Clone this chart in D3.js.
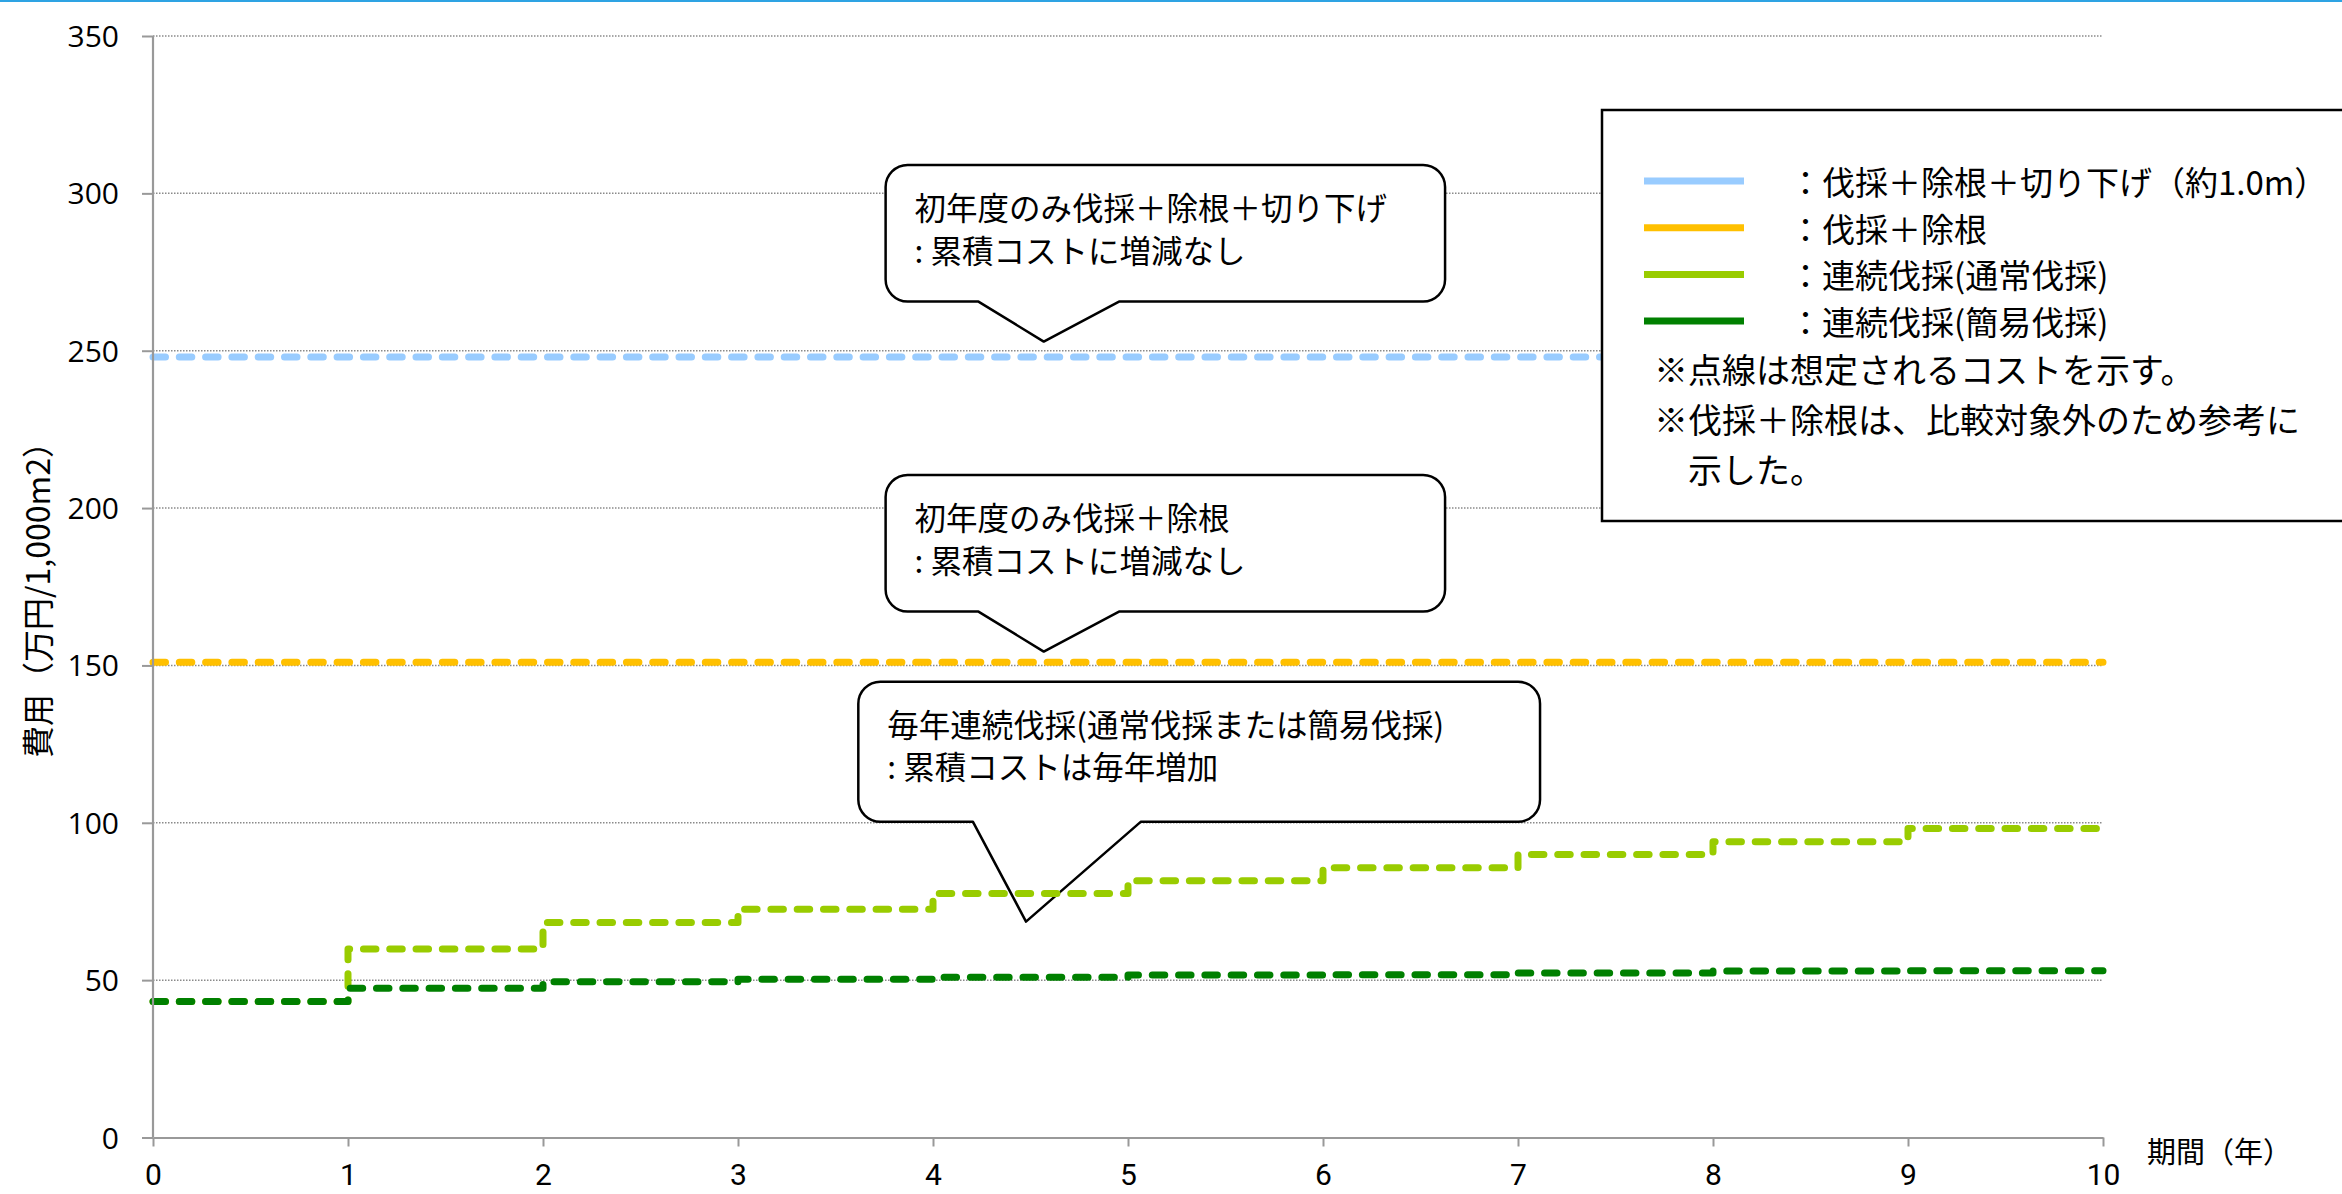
<!DOCTYPE html>
<html lang="ja">
<head>
<meta charset="UTF-8">
<title>累積コスト</title>
<script src="https://d3js.org/d3.v7.min.js"></script>
<style>
  body { margin: 0; background: #fff; }
  text { font-family: "Noto Sans CJK JP", "Noto Sans", sans-serif; fill: #000; }
  .ytick text { font-family: "Open Sans", "Noto Sans", sans-serif; }
  .xtick text { font-family: "Liberation Sans Narrow", "Roboto", "Noto Sans", sans-serif; }
</style>
</head>
<body>
<div id="chart"></div>
<script>
// years on x axis and tick values
var years = [0, 1, 2, 3, 4, 5, 6, 7, 8, 9, 10];
var yTicks = [0, 50, 100, 150, 200, 250, 300, 350];

// cost per year interval (start of year 0..9), 万円/1,000m2
var costCutRootLower = [248, 248, 248, 248, 248, 248, 248, 248, 248, 248];
var costCutRoot      = [151, 151, 151, 151, 151, 151, 151, 151, 151, 151];
var costNormal       = [43.2, 59.9, 68.3, 72.5, 77.5, 81.6, 85.7, 89.9, 94.0, 98.2];
var costSimple       = [43.2, 47.4, 49.5, 50.3, 50.9, 51.6, 51.7, 52.3, 52.9, 53.0];

var seriesNames = [
  "：伐採＋除根＋切り下げ（約1.0m）",
  "：伐採＋除根",
  "：連続伐採(通常伐採)",
  "：連続伐採(簡易伐採)"
];
var seriesColors = ["#99ccff", "#ffc000", "#99cc00", "#008000"];

var notes = [
  "※点線は想定されるコストを示す。",
  "※伐採＋除根は、比較対象外のため参考に",
  "　示した。"
];

var xTitle = "期間（年）";
var yTitle = "費用（万円/1,000m2）";

// callouts: box and pointer in data units
var callouts = [
  { lines: ["初年度のみ伐採＋除根＋切り下げ", ": 累積コストに増減なし"],
    x0: 3.757, x1: 6.626, top: 309.0, bottom: 265.6, b0: 4.233, b1: 4.954, tipX: 4.568, tipY: 252.9 },
  { lines: ["初年度のみ伐採＋除根", ": 累積コストに増減なし"],
    x0: 3.757, x1: 6.626, top: 210.5, bottom: 167.1, b0: 4.233, b1: 4.954, tipX: 4.568, tipY: 154.4 },
  { lines: ["毎年連続伐採(通常伐採または簡易伐採)", ": 累積コストは毎年増加"],
    x0: 3.617, x1: 7.113, top: 144.8, bottom: 100.3, b0: 4.205, b1: 5.065, tipX: 4.477, tipY: 68.6 }
];

var W = 2342, H = 1194;
var margin = { top: 36, left: 153, right: 239, bottom: 56.5 };
var width = W - margin.left - margin.right,
    height = H - margin.top - margin.bottom;

var svg = d3.select("#chart").append("svg")
    .attr("width", W).attr("height", H);

// thin blue strip at top of page
svg.append("rect").attr("x", 0).attr("y", 0).attr("width", W).attr("height", 2)
    .attr("fill", "#2ea3e3");

var g = svg.append("g")
    .attr("transform", "translate(" + margin.left + "," + margin.top + ")");

var x = d3.scaleLinear().domain([0, 10]).range([0, width]);
var y = d3.scaleLinear().domain([0, 350]).range([height, 0]);

// gridlines
g.selectAll(".grid").data(yTicks.filter(d => d > 0)).enter()
  .append("line")
    .attr("x1", 0).attr("x2", width)
    .attr("y1", d => y(d)).attr("y2", d => y(d))
    .attr("stroke", "#8a8a8a").attr("stroke-width", 1.5)
    .attr("stroke-dasharray", "1.5,1.5");

// callout bubbles (behind lines)
function bubblePath(c) {
  var r = 22;
  var X0 = x(c.x0), X1 = x(c.x1), T = y(c.top), B = y(c.bottom);
  return "M" + (X0 + r) + "," + T +
    "H" + (X1 - r) + "A" + r + "," + r + " 0 0 1 " + X1 + "," + (T + r) +
    "V" + (B - r) + "A" + r + "," + r + " 0 0 1 " + (X1 - r) + "," + B +
    "H" + x(c.b1) + "L" + x(c.tipX) + "," + y(c.tipY) + "L" + x(c.b0) + "," + B +
    "H" + (X0 + r) + "A" + r + "," + r + " 0 0 1 " + X0 + "," + (B - r) +
    "V" + (T + r) + "A" + r + "," + r + " 0 0 1 " + (X0 + r) + "," + T + "Z";
}

var cg = g.selectAll(".callout").data(callouts).enter().append("g");
cg.append("path")
    .attr("d", bubblePath)
    .attr("fill", "#fff").attr("stroke", "#000").attr("stroke-width", 2.5)
    .attr("stroke-linejoin", "round");
cg.each(function (c) {
  d3.select(this).selectAll("text").data(c.lines).enter().append("text")
    .attr("x", x(c.x0) + 29)
    .attr("y", (d, i) => y(c.top) + 41 + i * 42.5)
    .attr("dominant-baseline", "central")
    .attr("font-size", 31.5)
    .text(d => d);
});

// step lines
var allSeries = [costCutRootLower, costCutRoot, costNormal, costSimple];
var line = d3.line()
    .x(d => x(d[0]))
    .y(d => y(d[1]))
    .curve(d3.curveStepAfter);

allSeries.forEach(function (vals, i) {
  var pts = vals.map((v, k) => [years[k], v]);
  pts.push([years[years.length - 1], vals[vals.length - 1]]);
  g.append("path")
    .datum(pts)
    .attr("fill", "none")
    .attr("stroke", seriesColors[i])
    .attr("stroke-width", 7)
    .attr("stroke-linecap", "round")
    .attr("stroke-linejoin", "round")
    .attr("stroke-dasharray", "12.5,13.8")
    .attr("d", line);
});

// axes
var yAxis = g.append("g").attr("class", "ytick")
    .call(d3.axisLeft(y).tickValues(yTicks).tickSize(11).tickPadding(23));
var xAxis = g.append("g").attr("class", "xtick")
    .attr("transform", "translate(0," + height + ")")
    .call(d3.axisBottom(x).tickValues(years).tickSize(9).tickSizeOuter(0));

[yAxis, xAxis].forEach(function (a) {
  a.select(".domain").attr("stroke", "#999").attr("stroke-width", 2.2);
  a.selectAll(".tick line").attr("stroke", "#999").attr("stroke-width", 2);
});
yAxis.select(".domain").attr("d", "M0," + height + "V0");
yAxis.selectAll("text").attr("font-size", 30).attr("dy", "0.35em");
xAxis.selectAll("text").attr("font-size", 30).attr("y", 37).attr("dy", "0.35em");

// axis titles
g.append("text")
    .attr("x", width + 44).attr("y", height + 12)
    .attr("dominant-baseline", "central")
    .attr("font-size", 29)
    .text(xTitle);

svg.append("text")
    .attr("transform", "translate(36,592) rotate(-90)")
    .attr("text-anchor", "middle")
    .attr("dominant-baseline", "central")
    .attr("font-size", 32)
    .text(yTitle);

// legend box
var lg = svg.append("g");
lg.append("rect")
    .attr("x", 1602).attr("y", 110).attr("width", 800).attr("height", 411)
    .attr("fill", "#fff").attr("stroke", "#000").attr("stroke-width", 2.5);

var items = lg.selectAll(".item").data(seriesNames).enter().append("g")
    .attr("transform", (d, i) => "translate(0," + (181 + i * 46.7) + ")");
items.append("line")
    .attr("x1", 1644).attr("x2", 1744).attr("y1", 0).attr("y2", 0)
    .attr("stroke", (d, i) => seriesColors[i]).attr("stroke-width", 7);
items.append("text")
    .attr("x", 1789).attr("y", 0)
    .attr("dominant-baseline", "central")
    .attr("font-size", 33)
    .text(d => d);

lg.selectAll(".note").data(notes).enter().append("text")
    .attr("x", 1654)
    .attr("y", (d, i) => 368 + i * 50)
    .attr("dominant-baseline", "central")
    .attr("font-size", 34)
    .text(d => d);
</script>
</body>
</html>
